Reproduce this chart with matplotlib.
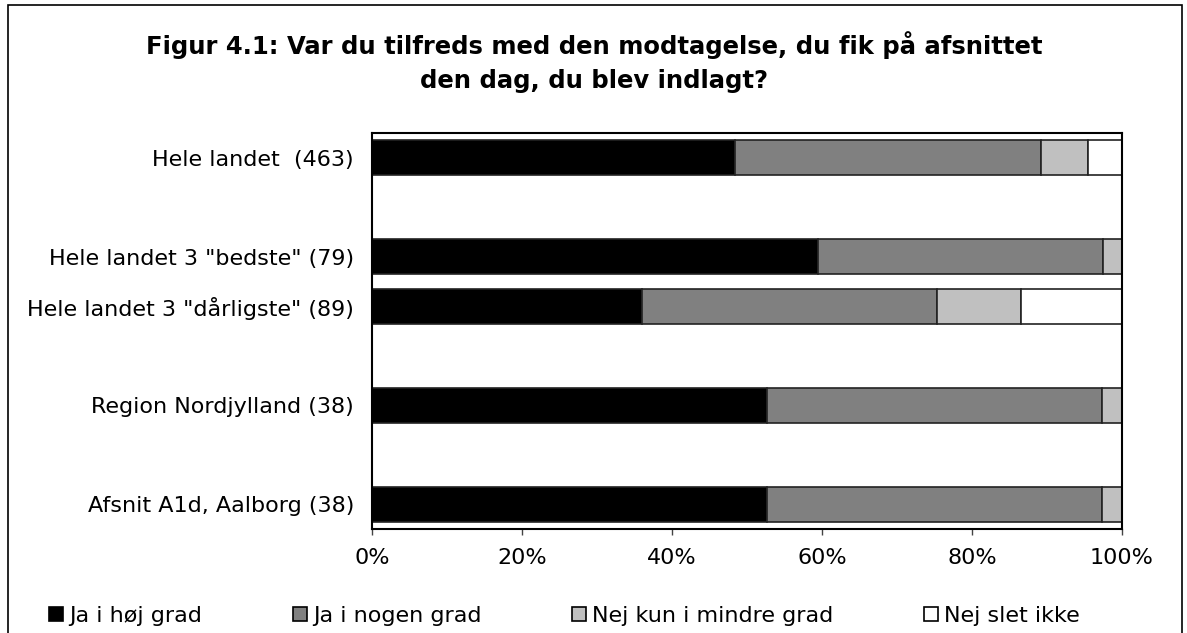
import matplotlib
matplotlib.use("Agg")
import matplotlib.pyplot as plt
from matplotlib.patches import Patch, Rectangle
import numpy as np

categories = ['Hele landet  (463)', 'Hele landet 3 "bedste" (79)',
              'Hele landet 3 "dårligste" (89)', 'Region Nordjylland (38)',
              'Afsnit A1d, Aalborg (38)']
slots = [0, 2, 3, 5, 7]  # category slots (Excel chart with blank rows)
series_names = ['Ja i høj grad', 'Ja i nogen grad', 'Nej kun i mindre grad', 'Nej slet ikke']
ja_hoej = [48.4, 59.5, 36.0, 52.6, 52.6]
ja_nogen = [40.8, 38.0, 39.3, 44.7, 44.7]
nej_mindre = [6.3, 2.5, 11.2, 2.7, 2.7]
nej_slet = [4.5, 0.0, 13.5, 0.0, 0.0]
colors = ['#000000', '#808080', '#C0C0C0', '#FFFFFF']
title = 'Figur 4.1: Var du tilfreds med den modtagelse, du fik på afsnittet\nden dag, du blev indlagt?'
xticks = [0, 20, 40, 60, 80, 100]

plt.rcParams['font.family'] = ['DejaVu Sans']

W, H = 1187, 633
fig = plt.figure(figsize=(W / 100, H / 100), dpi=100)
ax = fig.add_axes([372 / W, (H - 529) / H, 750 / W, 396 / H])

series = [ja_hoej, ja_nogen, nej_mindre, nej_slet]
left = np.zeros(len(categories))
for vals, col, name in zip(series, colors, series_names):
    ax.barh(slots, vals, left=left, height=0.7, color=col, edgecolor='#222222',
            linewidth=1.2, label=name)
    left += np.array(vals)

ax.set_xlim(0, 100)
ax.set_ylim(7.5, -0.5)
ax.set_yticks(slots)
ax.set_yticklabels(categories, fontsize=16)
ax.tick_params(axis='y', length=0, pad=13)
ax.set_xticks(xticks)
ax.set_xticklabels([f'{t}%' for t in xticks], fontsize=16)
ax.tick_params(axis='x', direction='out', length=4.5, width=1, pad=9, color='#444444')
for sp in ax.spines.values():
    sp.set_linewidth(1.5)
    sp.set_color('black')

fig.text(594 / W, 1 - 62 / H, title, ha='center', va='center', fontsize=17.5,
         fontweight='bold', linespacing=1.56)

# outer chart frame
fig.add_artist(Rectangle((8 / W, -0.05), (1182 - 8) / W, 1 - 5 / H + 0.05,
                         transform=fig.transFigure, fill=False, edgecolor='black',
                         linewidth=1.2))

handles = [Patch(facecolor=c, edgecolor='black', linewidth=1.2) for c in colors]
fig.legend(handles, series_names, loc='center left', bbox_to_anchor=(49 / W, 17 / H),
           ncol=4, frameon=False, fontsize=16, handlelength=0.63, handleheight=0.63,
           handletextpad=0.3, columnspacing=4.05, borderaxespad=0, borderpad=0)

fig.savefig('out.png', dpi=100, facecolor='white')
